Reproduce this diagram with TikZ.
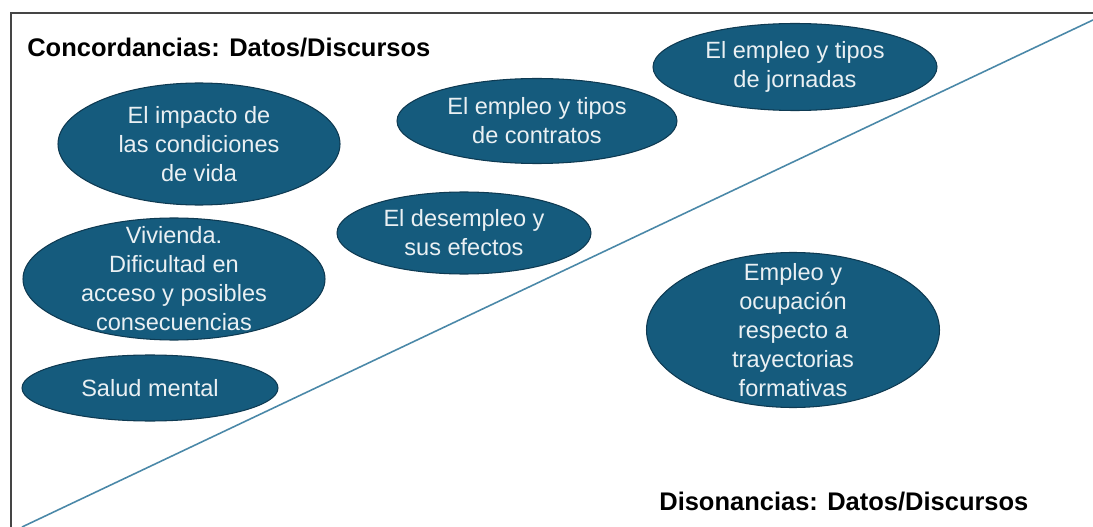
\documentclass[tikz,border=0pt]{standalone}
\usepackage{fontspec}
\setmainfont{Liberation Sans}
\definecolor{BlobFill}{HTML}{155B7D}
\definecolor{BlobEdge}{HTML}{0E3A52}
\definecolor{BlobText}{HTML}{EAF0F3}
\definecolor{DiagLine}{HTML}{4A88A8}
\definecolor{FrameGray}{HTML}{454545}
\usetikzlibrary{positioning, shapes.geometric}

\begin{document}
\begin{tikzpicture}[
  x=0.02cm, y=-0.02cm,
  blob/.style 2 args={ellipse, draw=BlobEdge, line width=0.6pt, fill=BlobFill,
    minimum width=#1*0.02cm, minimum height=#2*0.02cm, inner sep=0pt},
  txt/.style={text=BlobText, align=center, font=\fontsize{13.4}{16.5}\selectfont},
  ttl/.style={anchor=west, inner sep=0pt, font=\fontsize{14.5}{16}\selectfont\bfseries}
]
\useasboundingbox (0,0) rectangle (1093,527);

% frame and diagonal
\draw[FrameGray, line width=0.9pt] (11,527) -- (11,13) -- (1093,13);
\coordinate (diagA) at (22,527);
\coordinate (diagB) at (1093,20);
\draw[DiagLine, line width=0.9pt] (diagA) -- (diagB);

% titles
\node[ttl] (conc) at (27,48) {Concordancias: Datos/Discursos};
\node[ttl] (diso) at (659,502) {Disonancias: Datos/Discursos};

% concordancias
\node[blob={282}{122}] (impacto) at (199,144) {};
\node[txt] at (impacto) {El impacto de\\las condiciones\\de vida};
\node[blob={302}{122}] (vivienda) at (174,279) {};
\node[txt] at (vivienda) {Vivienda.\\Dificultad en\\acceso y posibles\\consecuencias};
\node[blob={256}{66}] (salud) at (150,388) {};
\node[txt] at (salud) {Salud mental};
\node[blob={280}{85}] (contratos) at (537,121) {};
\node[txt] at (contratos) {El empleo y tipos\\de contratos};
\node[blob={254}{82}] (desempleo) at (464,233) {};
\node[txt] at (desempleo) {El desempleo y\\sus efectos};
\node[blob={284}{87}] (jornadas) at (795,67) {};
\node[txt] at (jornadas) {El empleo y tipos\\de jornadas};

% disonancias
\node[blob={293}{155}] (trayect) at (793,330) {};
\node[txt] at (trayect) {Empleo y\\ocupación\\respecto a\\trayectorias\\formativas};

\end{tikzpicture}
\end{document}
